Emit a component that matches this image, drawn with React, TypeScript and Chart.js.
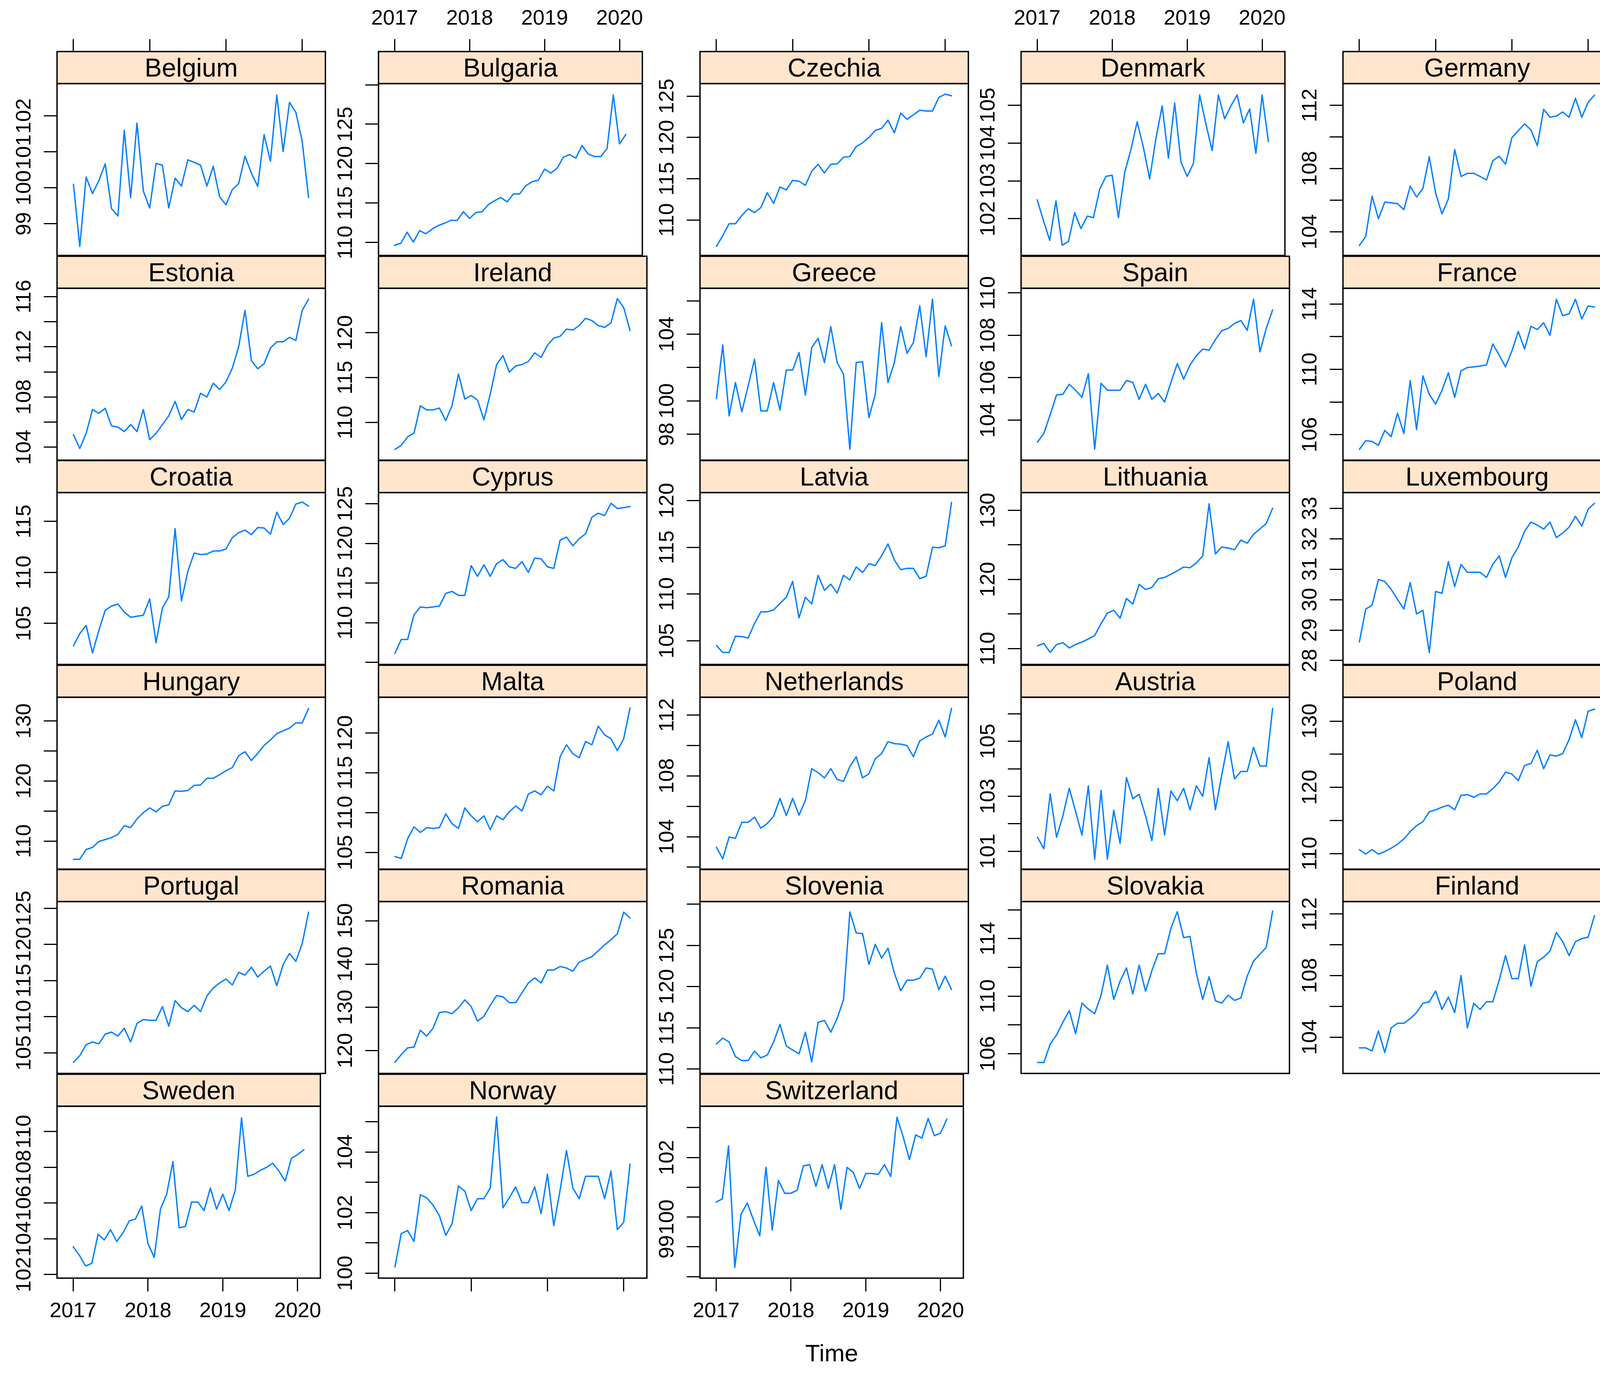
import React, { useEffect, useRef } from 'react';
import { Chart, registerables } from 'chart.js';

Chart.register(...registerables);

const FONT = '"Liberation Sans", Arial, Helvetica, sans-serif';
Chart.defaults.font.family = FONT;
Chart.defaults.color = '#000';

// ---- time axis ----
const START_YEAR = 2017;
const YEAR_TICKS = [2017, 2018, 2019, 2020];
const X_MIN = 2016.785;
const X_MAX = 2020.304;

// ---- series (monthly, Jan 2017 – Feb 2020) ----
const belgium = [100.1, 98.37, 100.3, 99.84, 100.2, 100.67, 99.42, 99.22, 101.6, 99.73, 101.8, 99.91, 99.44, 100.68, 100.63, 99.44, 100.27, 100.05, 100.78, 100.71, 100.63, 100.05, 100.6, 99.75, 99.53, 99.95, 100.12, 100.88, 100.41, 100.04, 101.48, 100.74, 102.58, 101.01, 102.38, 102.1, 101.29, 99.73];
const bulgaria = [109.65, 109.9, 111.3, 110.05, 111.5, 111.1, 111.7, 112.15, 112.45, 112.8, 112.8, 113.9, 113.05, 113.8, 113.9, 114.8, 115.3, 115.7, 115.15, 116.15, 116.15, 117.2, 117.7, 117.9, 119.3, 118.8, 119.4, 120.8, 121.15, 120.7, 122.3, 121.2, 120.9, 120.9, 121.9, 128.7, 122.5, 123.7];
const czechia = [106.8, 108.1, 109.55, 109.55, 110.55, 111.35, 110.9, 111.5, 113.3, 112.0, 114.0, 113.65, 114.8, 114.7, 114.2, 115.9, 116.75, 115.7, 116.75, 116.8, 117.6, 117.7, 118.9, 119.35, 120.0, 120.85, 121.1, 122.1, 120.55, 122.95, 122.2, 122.75, 123.3, 123.2, 123.2, 124.85, 125.25, 125.05];
const denmark = [102.5, 101.95, 101.43, 102.47, 101.3, 101.4, 102.16, 101.74, 102.07, 102.03, 102.78, 103.12, 103.15, 102.03, 103.22, 103.83, 104.56, 103.88, 103.05, 104.12, 104.98, 103.6, 105.06, 103.5, 103.12, 103.46, 105.27, 104.5, 103.8, 105.27, 104.64, 104.98, 105.27, 104.53, 104.9, 103.73, 105.27, 104.04];
const germany = [103.13, 103.7, 106.25, 104.83, 105.88, 105.83, 105.78, 105.4, 106.88, 106.2, 106.75, 108.75, 106.45, 105.13, 106.08, 109.2, 107.5, 107.7, 107.7, 107.5, 107.28, 108.5, 108.78, 108.28, 109.95, 110.4, 110.83, 110.45, 109.45, 111.75, 111.25, 111.33, 111.58, 111.25, 112.45, 111.25, 112.2, 112.65];
const estonia = [105.0, 103.9, 105.1, 107.0, 106.7, 107.1, 105.7, 105.6, 105.25, 105.8, 105.25, 107.0, 104.6, 105.1, 105.8, 106.5, 107.65, 106.2, 107.0, 106.8, 108.3, 108.0, 109.1, 108.6, 109.2, 110.3, 112.0, 114.9, 110.9, 110.25, 110.65, 111.9, 112.4, 112.4, 112.75, 112.5, 114.9, 115.8];
const ireland = [107.0, 107.45, 108.4, 108.8, 111.85, 111.4, 111.4, 111.6, 110.2, 111.9, 115.4, 112.6, 113.0, 112.5, 110.3, 113.15, 116.45, 117.45, 115.6, 116.3, 116.45, 116.8, 117.75, 117.25, 118.6, 119.4, 119.6, 120.4, 120.3, 120.8, 121.6, 121.35, 120.8, 120.6, 121.1, 123.8, 122.8, 120.25];
const greece = [100.15, 103.35, 99.1, 101.1, 99.35, 100.9, 102.5, 99.4, 99.4, 101.1, 99.45, 101.85, 101.85, 102.9, 100.35, 103.2, 103.75, 102.3, 104.45, 102.3, 101.6, 97.1, 102.3, 102.35, 99.0, 100.4, 104.7, 101.1, 102.3, 104.45, 102.85, 103.5, 105.7, 102.65, 106.1, 101.45, 104.5, 103.3];
const spain = [102.96, 103.37, 104.26, 105.19, 105.22, 105.69, 105.41, 105.07, 106.19, 102.63, 105.74, 105.41, 105.41, 105.41, 105.87, 105.78, 104.98, 105.69, 104.98, 105.26, 104.85, 105.78, 106.67, 105.93, 106.6, 107.04, 107.35, 107.3, 107.8, 108.22, 108.33, 108.56, 108.7, 108.24, 109.7, 107.22, 108.33, 109.2];
const france = [105.1, 105.63, 105.59, 105.35, 106.26, 105.88, 107.32, 106.07, 109.31, 106.31, 109.6, 108.47, 107.87, 108.71, 109.79, 108.28, 109.91, 110.11, 110.15, 110.2, 110.27, 111.55, 110.87, 110.15, 111.12, 112.32, 111.24, 112.63, 112.44, 112.85, 112.08, 114.29, 113.28, 113.4, 114.29, 113.09, 113.88, 113.81];
const croatia = [102.8, 104.0, 104.8, 102.1, 104.3, 106.3, 106.7, 106.9, 106.1, 105.6, 105.7, 105.8, 107.4, 103.1, 106.5, 107.6, 114.3, 107.2, 110.1, 111.9, 111.75, 111.8, 112.1, 112.1, 112.3, 113.4, 113.9, 114.15, 113.7, 114.4, 114.35, 113.75, 115.9, 114.7, 115.3, 116.7, 116.9, 116.5];
const cyprus = [106.15, 107.9, 107.9, 111.0, 112.0, 111.9, 112.0, 112.1, 113.7, 113.95, 113.45, 113.45, 117.2, 115.85, 117.3, 115.85, 117.45, 117.95, 117.05, 116.85, 117.7, 116.35, 118.15, 118.05, 117.05, 116.85, 120.4, 120.8, 119.7, 120.6, 121.2, 123.3, 123.8, 123.5, 125.05, 124.4, 124.5, 124.65];
const latvia = [104.5, 103.75, 103.75, 105.5, 105.45, 105.3, 106.85, 108.1, 108.1, 108.3, 109.0, 109.65, 111.35, 107.45, 109.65, 108.95, 112.0, 110.4, 111.05, 110.1, 112.0, 111.5, 112.9, 112.3, 113.25, 113.05, 114.1, 115.35, 113.65, 112.6, 112.75, 112.75, 111.65, 111.9, 115.0, 114.95, 115.15, 119.8];
const lithuania = [110.4, 110.75, 109.45, 110.6, 110.85, 110.1, 110.6, 110.95, 111.4, 111.9, 113.6, 115.15, 115.55, 114.4, 117.25, 116.45, 119.3, 118.55, 118.85, 120.1, 120.3, 120.75, 121.25, 121.8, 121.7, 122.4, 123.4, 130.95, 123.7, 124.7, 124.55, 124.3, 125.7, 125.25, 126.55, 127.3, 128.1, 130.3];
const luxembourg = [28.61, 29.69, 29.82, 30.66, 30.6, 30.34, 30.01, 29.69, 30.56, 29.53, 29.65, 28.26, 30.27, 30.21, 31.25, 30.43, 31.16, 30.9, 30.9, 30.9, 30.73, 31.16, 31.44, 30.73, 31.38, 31.73, 32.25, 32.55, 32.45, 32.32, 32.55, 32.04, 32.19, 32.38, 32.74, 32.42, 32.97, 33.17];
const hungary = [106.97, 106.97, 108.6, 108.95, 109.93, 110.26, 110.59, 111.12, 112.57, 112.24, 113.68, 114.74, 115.53, 114.87, 115.79, 116.05, 118.36, 118.29, 118.42, 119.28, 119.34, 120.46, 120.46, 121.05, 121.71, 122.24, 124.21, 124.87, 123.42, 124.6, 125.92, 126.84, 127.89, 128.36, 128.82, 129.67, 129.67, 132.1];
const malta = [104.5, 104.26, 106.73, 108.22, 107.52, 108.12, 108.02, 108.12, 109.85, 108.61, 108.02, 110.59, 109.6, 108.86, 109.6, 107.87, 109.6, 109.11, 110.1, 110.84, 110.2, 112.33, 112.72, 112.23, 113.32, 112.72, 117.03, 118.51, 117.38, 116.88, 118.91, 118.51, 120.84, 119.75, 119.26, 117.77, 119.26, 123.12];
const netherlands = [103.31, 102.55, 103.98, 103.9, 104.95, 104.95, 105.29, 104.56, 104.87, 105.34, 106.52, 105.39, 106.52, 105.42, 106.39, 108.48, 108.21, 107.87, 108.48, 107.77, 107.64, 108.61, 109.26, 107.87, 108.14, 109.13, 109.47, 110.25, 110.12, 110.09, 109.99, 109.26, 110.3, 110.56, 110.75, 111.66, 110.56, 112.44];
const austria = [101.51, 101.09, 103.09, 101.51, 102.29, 103.29, 102.44, 101.59, 103.38, 100.71, 103.21, 100.71, 102.49, 101.29, 103.68, 102.91, 103.07, 102.29, 101.39, 103.29, 101.59, 103.19, 102.84, 103.29, 102.51, 103.38, 103.0, 104.4, 102.51, 103.78, 104.98, 103.63, 103.9, 103.9, 104.78, 104.1, 104.1, 106.2];
const poland = [110.6, 109.9, 110.6, 109.9, 110.3, 110.8, 111.4, 112.2, 113.3, 114.2, 114.8, 116.3, 116.6, 117.0, 117.3, 116.6, 118.8, 118.9, 118.5, 119.0, 119.0, 119.8, 120.8, 122.3, 122.0, 121.0, 123.3, 123.6, 125.6, 122.8, 124.9, 124.7, 125.1, 127.2, 130.2, 127.5, 131.5, 131.8];
const portugal = [103.7, 104.62, 106.14, 106.52, 106.25, 107.61, 107.88, 107.34, 108.42, 106.52, 109.08, 109.62, 109.51, 109.51, 111.41, 108.7, 112.23, 111.25, 110.71, 111.58, 110.71, 112.88, 113.97, 114.67, 115.22, 114.4, 116.14, 115.76, 116.85, 115.49, 116.3, 117.01, 114.29, 117.23, 118.75, 117.66, 120.11, 124.46];
const romania = [117.27, 119.09, 120.64, 120.82, 124.73, 123.36, 125.18, 128.82, 129.0, 128.55, 129.91, 131.73, 130.18, 126.82, 127.91, 130.45, 132.73, 132.45, 131.09, 131.09, 133.36, 135.64, 136.82, 135.64, 138.64, 138.64, 139.45, 139.09, 138.36, 140.45, 141.09, 141.73, 143.09, 144.45, 145.64, 147.0, 152.0, 150.64];
const slovenia = [113.04, 113.76, 113.28, 111.51, 111.03, 111.03, 112.18, 111.36, 111.7, 113.28, 115.43, 112.8, 112.32, 111.84, 114.47, 110.89, 115.67, 115.91, 114.47, 116.15, 118.4, 129.07, 126.53, 126.44, 122.7, 125.14, 123.47, 124.67, 121.65, 119.5, 120.79, 120.79, 121.03, 122.27, 122.13, 119.64, 121.27, 119.64];
const slovakia = [105.39, 105.39, 106.67, 107.3, 108.19, 109.0, 107.39, 109.52, 109.1, 108.78, 110.06, 112.15, 109.77, 111.05, 111.96, 110.15, 112.15, 110.34, 111.77, 112.95, 112.95, 114.72, 115.87, 114.06, 114.15, 111.58, 109.77, 111.35, 109.68, 109.52, 110.06, 109.71, 109.87, 111.39, 112.44, 112.91, 113.39, 115.92];
const finland = [103.3, 103.3, 103.1, 104.4, 103.0, 104.6, 104.9, 104.9, 105.2, 105.6, 106.2, 106.3, 107.0, 105.8, 106.6, 105.6, 108.0, 104.6, 106.2, 105.8, 106.3, 106.3, 107.7, 109.3, 107.8, 107.8, 110.0, 107.3, 108.9, 109.2, 109.6, 110.8, 110.2, 109.3, 110.2, 110.4, 110.5, 111.9];
const sweden = [103.56, 103.08, 102.48, 102.63, 104.25, 103.94, 104.51, 103.85, 104.34, 105.0, 105.11, 105.84, 103.74, 102.96, 105.66, 106.5, 108.32, 104.62, 104.69, 106.06, 106.06, 105.58, 106.84, 105.66, 106.5, 105.58, 106.73, 110.77, 107.5, 107.61, 107.83, 108.0, 108.23, 107.79, 107.23, 108.5, 108.72, 108.98];
const norway = [100.21, 101.31, 101.41, 101.05, 102.59, 102.49, 102.25, 101.9, 101.25, 101.64, 102.88, 102.71, 102.07, 102.46, 102.46, 102.81, 105.16, 102.16, 102.49, 102.85, 102.33, 102.33, 102.85, 101.97, 103.27, 101.57, 102.75, 104.05, 102.81, 102.46, 103.2, 103.2, 103.2, 102.46, 103.37, 101.44, 101.68, 103.6];
const switzerland = [100.5, 100.61, 102.39, 98.31, 100.1, 100.47, 99.9, 99.37, 101.67, 99.57, 101.23, 100.8, 100.8, 100.9, 101.72, 101.76, 101.03, 101.76, 100.96, 101.76, 100.26, 101.67, 101.5, 100.96, 101.46, 101.46, 101.43, 101.76, 101.36, 103.35, 102.69, 101.93, 102.76, 102.65, 103.31, 102.73, 102.82, 103.29];

// ---- panel table: name, series, y range, tick values, labelled tick values ----
type PanelCfg = { name: string; values: number[]; yMin: number; yMax: number; yTicks: number[]; yLabels: number[] };
const P = (name: string, values: number[], yMin: number, yMax: number, yTicks: number[], yLabels: number[]): PanelCfg => ({ name, values, yMin, yMax, yTicks, yLabels });

const PANEL_ROWS: PanelCfg[][] = [
  [
    P('Belgium', belgium, 98.12, 102.9, [99, 100, 101, 102], [99, 100, 101, 102]),
    P('Bulgaria', bulgaria, 108.35, 130.15, [110, 115, 120, 125, 130], [110, 115, 120, 125]),
    P('Czechia', czechia, 105.7, 126.53, [110, 115, 120, 125], [110, 115, 120, 125]),
    P('Denmark', denmark, 101.03, 105.57, [102, 103, 104, 105], [102, 103, 104, 105]),
    P('Germany', germany, 102.5, 113.38, [104, 106, 108, 110, 112], [104, 108, 112]),
  ],
  [
    P('Estonia', estonia, 102.97, 116.66, [104, 106, 108, 110, 112, 114, 116], [104, 108, 112, 116]),
    P('Ireland', ireland, 105.8, 124.95, [110, 115, 120], [110, 115, 120]),
    P('Greece', greece, 96.45, 106.75, [98, 100, 102, 104, 106], [98, 100, 104]),
    P('Spain', spain, 102.11, 110.22, [104, 106, 108, 110], [104, 106, 108, 110]),
    P('France', france, 104.44, 114.96, [106, 108, 110, 112, 114], [106, 110, 114]),
  ],
  [
    P('Croatia', croatia, 100.97, 117.83, [105, 110, 115], [105, 110, 115]),
    P('Cyprus', cyprus, 104.75, 126.4, [105, 110, 115, 120, 125], [110, 115, 120, 125]),
    P('Latvia', latvia, 102.47, 120.85, [105, 110, 115, 120], [105, 110, 115, 120]),
    P('Lithuania', lithuania, 107.71, 132.57, [110, 115, 120, 125, 130], [110, 120, 130]),
    P('Luxembourg', luxembourg, 27.87, 33.52, [28, 29, 30, 31, 32, 33], [28, 29, 30, 31, 32, 33]),
  ],
  [
    P('Hungary', hungary, 105.33, 133.95, [110, 115, 120, 125, 130], [110, 120, 130]),
    P('Malta', malta, 102.92, 124.46, [105, 110, 115, 120], [105, 110, 115, 120]),
    P('Netherlands', netherlands, 101.87, 113.17, [102, 104, 106, 108, 110, 112], [104, 108, 112]),
    P('Austria', austria, 100.35, 106.6, [101, 102, 103, 104, 105, 106], [101, 103, 105]),
    P('Poland', poland, 107.64, 133.6, [110, 115, 120, 125, 130], [110, 120, 130]),
  ],
  [
    P('Portugal', portugal, 102.17, 125.92, [105, 110, 115, 120, 125], [105, 110, 115, 120, 125]),
    P('Romania', romania, 114.73, 154.45, [120, 130, 140, 150], [120, 130, 140, 150]),
    P('Slovenia', slovenia, 109.47, 130.33, [110, 115, 120, 125, 130], [110, 115, 120, 125]),
    P('Slovakia', slovakia, 104.63, 116.57, [106, 108, 110, 112, 114, 116], [106, 110, 114]),
    P('Finland', finland, 101.64, 112.81, [104, 106, 108, 110, 112], [104, 108, 112]),
  ],
  [
    P('Sweden', sweden, 101.8, 111.42, [102, 104, 106, 108, 110], [102, 104, 106, 108, 110]),
    P('Norway', norway, 99.84, 105.51, [100, 101, 102, 103, 104, 105], [100, 102, 104]),
    P('Switzerland', switzerland, 97.95, 103.72, [98, 99, 100, 101, 102, 103], [99, 100, 102]),
  ],
];

// ---- geometry (page pixels) ----
const COL_LEFT = [146, 969, 1792, 2614, 3438];
const ROW_TOP = [132, 656, 1179, 1703, 2226, 2750];
const AXW = 140;
const TOPH = 132;
const STRIPH = 82;
const PANELH = 440;
const PANELW = 687;
const BOTH = 240;
const RPAD = 10;
const CW = AXW + PANELW + RPAD;
const CH = TOPH + STRIPH + PANELH + BOTH;
const TICK_FONT = 54;
const STRIP_FONT = 66;
const LINE_COLOR = '#0080ff';
const STRIP_FILL = '#ffe5cc';

const stripPlugin = {
  id: 'strip',
  afterDraw(chart: any, _args: any, opts: any) {
    const { left, right, top, bottom } = chart.chartArea;
    const ctx = chart.ctx as CanvasRenderingContext2D;
    ctx.save();
    ctx.fillStyle = STRIP_FILL;
    ctx.fillRect(left, top - STRIPH, right - left, STRIPH);
    ctx.lineWidth = 3.5;
    ctx.strokeStyle = '#000';
    ctx.strokeRect(left, top - STRIPH, right - left, STRIPH);
    ctx.strokeRect(left, top, right - left, bottom - top);
    ctx.fillStyle = '#000';
    ctx.font = `${STRIP_FONT}px ${FONT}`;
    ctx.textAlign = 'center';
    ctx.textBaseline = 'alphabetic';
    ctx.fillText(opts.text, (left + right) / 2, top - STRIPH + 64);
    ctx.restore();
  },
};

function Panel({ cfg, row, col }: { cfg: PanelCfg; row: number; col: number }) {
  const ref = useRef<HTMLCanvasElement>(null);
  useEffect(() => {
    const canvas = ref.current;
    if (!canvas) return;
    const isTop = row === 0;
    const isBottom = row === PANEL_ROWS.length - 1;
    const topLabels = isTop && col % 2 === 1;
    const bottomLabels = isBottom && col % 2 === 0;
    const showTime = isBottom && col === 2;
    const labelSet = new Set(cfg.yLabels);
    const mctx = document.createElement('canvas').getContext('2d') as CanvasRenderingContext2D;
    mctx.font = `${TICK_FONT}px ${FONT}`;
    const widest = Math.max(0, ...cfg.yLabels.map((v) => mctx.measureText(String(v)).width));
    const yPad = 83 - 34 - widest / 2;
    const points = cfg.values.map((v, i) => ({ x: START_YEAR + i / 12, y: v }));

    const xAxis = (position: 'top' | 'bottom', show: boolean, labels: boolean, h: number, tl: number) => ({
      type: 'linear',
      position,
      min: X_MIN,
      max: X_MAX,
      display: show,
      afterBuildTicks: (s: any) => {
        s.ticks = YEAR_TICKS.map((v) => ({ value: v }));
      },
      afterFit: (s: any) => {
        s.height = show ? h : 0;
      },
      border: { display: false },
      grid: { drawOnChartArea: false, drawTicks: true, tickLength: tl, color: '#000', lineWidth: 3 },
      ticks: {
        autoSkip: false,
        maxRotation: 0,
        minRotation: 0,
        padding: 19,
        color: '#000',
        font: { size: TICK_FONT },
        callback: (v: any) => (labels ? String(v) : ''),
      },
      title: {
        display: position === 'bottom' && showTime,
        text: 'Time',
        color: '#000',
        font: { size: 62 },
        padding: { top: 0, bottom: 7 },
      },
    });

    const chart = new Chart(canvas, {
      type: 'line',
      data: {
        datasets: [
          {
            data: points,
            borderColor: LINE_COLOR,
            borderWidth: 3.5,
            pointRadius: 0,
            pointHoverRadius: 0,
            tension: 0,
            fill: false,
            borderJoinStyle: 'round',
            borderCapStyle: 'round',
            xAxisID: 'x',
            yAxisID: 'y',
          } as any,
        ],
      },
      options: {
        animation: false,
        responsive: false,
        devicePixelRatio: 1,
        events: [],
        layout: { padding: { left: 0, right: RPAD, top: isTop ? 0 : TOPH + STRIPH, bottom: isBottom ? 0 : BOTH } },
        plugins: {
          legend: { display: false },
          tooltip: { enabled: false },
          title: { display: false },
          strip: { text: cfg.name },
        } as any,
        scales: {
          x: xAxis('bottom', isBottom, bottomLabels, BOTH, 34) as any,
          xTop: xAxis('top', isTop, topLabels, TOPH + STRIPH, 114) as any,
          y: {
            type: 'linear',
            position: 'left',
            min: cfg.yMin,
            max: cfg.yMax,
            afterBuildTicks: (s: any) => {
              s.ticks = cfg.yTicks.map((v) => ({ value: v }));
            },
            afterFit: (s: any) => {
              s.width = AXW;
            },
            border: { display: false },
            grid: { drawOnChartArea: false, drawTicks: true, tickLength: 34, color: '#000', lineWidth: 3 },
            ticks: {
              autoSkip: false,
              minRotation: 90,
              maxRotation: 90,
              crossAlign: 'center',
              padding: yPad,
              color: '#000',
              font: { size: TICK_FONT },
              callback: (v: any) => (labelSet.has(Number(v)) ? String(v) : ''),
            },
          } as any,
        },
      },
      plugins: [stripPlugin as any],
    });
    return () => chart.destroy();
  }, [cfg, row, col]);

  const left = COL_LEFT[col] - AXW;
  const top = ROW_TOP[row] - TOPH;
  return (
    <canvas
      ref={ref}
      width={CW}
      height={CH}
      style={{ position: 'absolute', left, top, width: CW, height: CH }}
    />
  );
}

export default function App() {
  return (
    <div style={{ position: 'absolute', left: 0, top: 0, width: 4152, height: 3520, overflow: 'hidden', background: '#fff' }}>
      {PANEL_ROWS.map((rowCfgs, r) =>
        rowCfgs.map((cfg, c) => <Panel key={cfg.name} cfg={cfg} row={r} col={c} />)
      )}
    </div>
  );
}
